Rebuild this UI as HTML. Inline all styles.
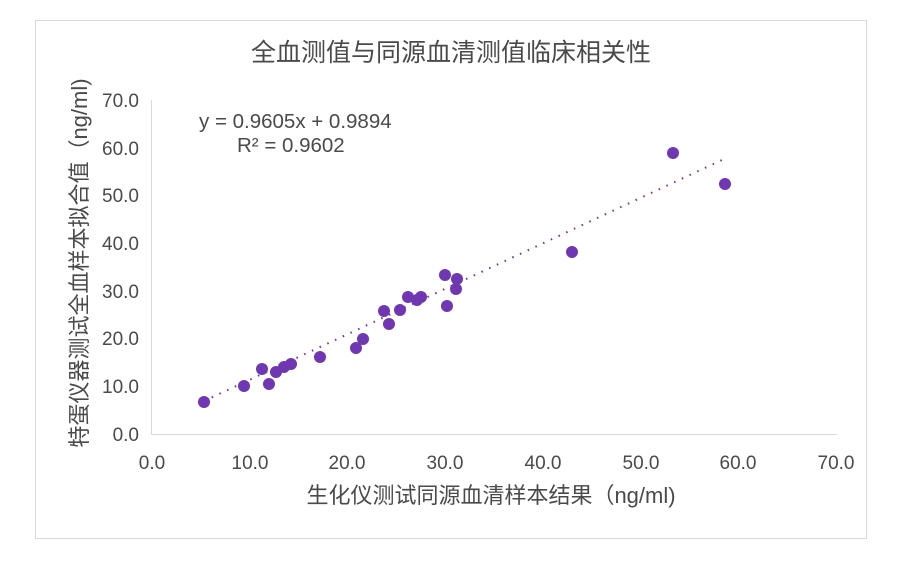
<!DOCTYPE html>
<html><head><meta charset="utf-8"><style>
html,body{margin:0;padding:0;background:#fff;}
svg{display:block;}
text{font-family:"Liberation Sans","Noto Sans CJK SC",sans-serif;fill:#4a4a4a;}
</style></head><body>
<svg width="900" height="569" viewBox="0 0 900 569">
<rect x="35.5" y="20.5" width="831" height="518" fill="#fff" stroke="#d9d9d9" stroke-width="1"/>
<text x="451" y="61" font-size="25" text-anchor="middle">全血测值与同源血清测值临床相关性</text>
<line x1="151.5" y1="100" x2="151.5" y2="434" stroke="#d9d9d9"/>
<line x1="151" y1="434.5" x2="837" y2="434.5" stroke="#d9d9d9"/>
<g font-size="19" text-anchor="end">
<text x="139" y="441">0.0</text><text x="139" y="393">10.0</text><text x="139" y="345">20.0</text><text x="139" y="298">30.0</text><text x="139" y="250">40.0</text><text x="139" y="202">50.0</text><text x="139" y="155">60.0</text><text x="139" y="107">70.0</text>
</g>
<g font-size="19" text-anchor="middle">
<text x="152" y="469">0.0</text><text x="250" y="469">10.0</text><text x="347" y="469">20.0</text><text x="445" y="469">30.0</text><text x="543" y="469">40.0</text><text x="641" y="469">50.0</text><text x="738" y="469">60.0</text><text x="836" y="469">70.0</text>
</g>
<text x="491" y="503" font-size="22" text-anchor="middle">生化仪测试同源血清样本结果（ng/ml)</text>
<text transform="translate(87,263) rotate(-90)" font-size="22" text-anchor="middle">特蛋仪器测试全血样本拟合值（ng/ml)</text>
<text x="199" y="128" font-size="20.5">y = 0.9605x + 0.9894</text>
<text x="237" y="152" font-size="20.5">R² = 0.9602</text>
<line x1="204" y1="401" x2="722" y2="160" stroke="#7030a0" stroke-width="2" stroke-dasharray="1.5,7"/>
<g fill="#7038b0">
<circle cx="204" cy="402" r="6"/><circle cx="244" cy="386" r="6"/><circle cx="262" cy="369" r="6"/><circle cx="269" cy="384" r="6"/><circle cx="276" cy="372" r="6"/><circle cx="284" cy="367" r="6"/><circle cx="291" cy="364" r="6"/><circle cx="320" cy="357" r="6"/><circle cx="356" cy="348" r="6"/><circle cx="363" cy="339" r="6"/><circle cx="384" cy="311" r="6"/><circle cx="389" cy="324" r="6"/><circle cx="400" cy="310" r="6"/><circle cx="408" cy="297" r="6"/><circle cx="417" cy="300" r="6"/><circle cx="421" cy="297" r="6"/><circle cx="445" cy="275" r="6"/><circle cx="447" cy="306" r="6"/><circle cx="457" cy="279" r="6"/><circle cx="456" cy="289" r="6"/><circle cx="572" cy="252" r="6"/><circle cx="673" cy="153" r="6"/><circle cx="725" cy="184" r="6"/>
</g>
</svg>
</body></html>
